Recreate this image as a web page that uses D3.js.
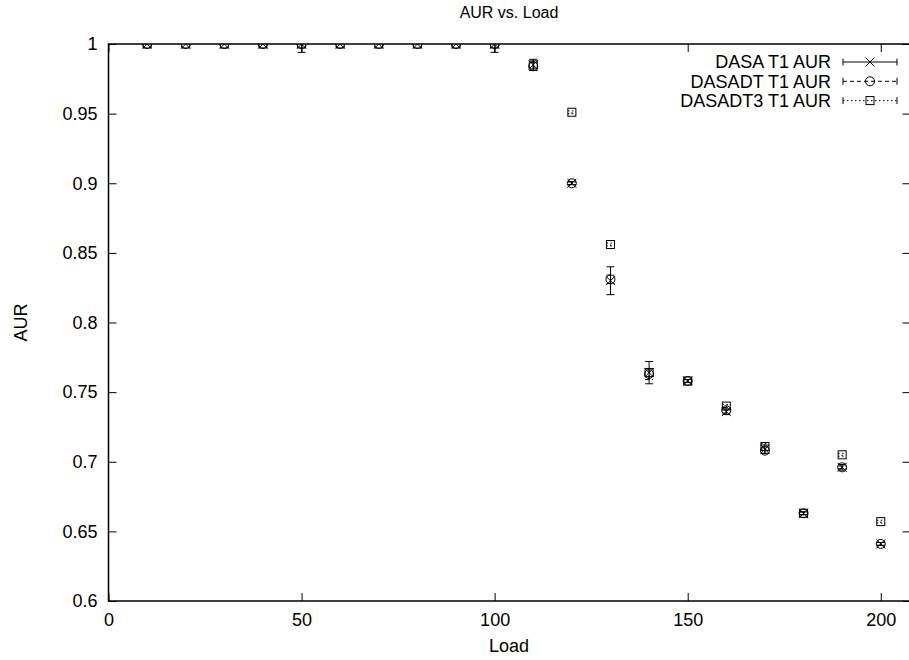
<!DOCTYPE html>
<html>
<head>
<meta charset="utf-8">
<script src="https://cdn.jsdelivr.net/npm/d3@7"></script>
<style>
  body { margin: 0; background: #fff; }
  svg text { font-family: "Liberation Sans", Arial, Helvetica, sans-serif; fill: #000; }
</style>
</head>
<body>
<svg id="chart" width="909" height="660"></svg>
<script>

// data
const loads = [10, 20, 30, 40, 50, 60, 70, 80, 90, 100, 110, 120, 130, 140, 150, 160, 170, 180, 190, 200];

const dasaAur     = [1, 1, 1, 1, 1, 1, 1, 1, 1, 1, 0.985, 0.900, 0.830, 0.764, 0.758, 0.736, 0.709, 0.663, 0.696, 0.641];
const dasaErr     = [0, 0, 0, 0, 0.006, 0, 0, 0, 0, 0.006, 0.004, 0.001, 0.010, 0.008, 0.001, 0.002, 0.003, 0.001, 0.002, 0.001];

const dasadtAur   = [1, 1, 1, 1, 1, 1, 1, 1, 1, 1, 0.984, 0.900, 0.831, 0.763, 0.758, 0.737, 0.708, 0.663, 0.696, 0.641];
const dasadtErr   = [0, 0, 0, 0, 0, 0, 0, 0, 0, 0, 0.003, 0.001, 0.003, 0.004, 0.001, 0.002, 0.002, 0.001, 0.001, 0.001];

const dasadt3Aur  = [1, 1, 1, 1, 1, 1, 1, 1, 1, 1, 0.985, 0.951, 0.856, 0.764, 0.758, 0.740, 0.711, 0.663, 0.705, 0.657];
const dasadt3Err  = [0, 0, 0, 0, 0, 0, 0, 0, 0, 0, 0.002, 0.001, 0.001, 0.003, 0.001, 0.001, 0.002, 0.001, 0.001, 0.001];

const xTicks = [0, 50, 100, 150, 200];
const yTicks = [0.6, 0.65, 0.7, 0.75, 0.8, 0.85, 0.9, 0.95, 1];

const seriesNames = ['DASA T1 AUR', 'DASADT T1 AUR', 'DASADT3 T1 AUR'];

const series = [
    { name: seriesNames[0], values: dasaAur, errs: dasaErr, marker: 'x', dash: null },
    { name: seriesNames[1], values: dasadtAur, errs: dasadtErr, marker: 'circle', dash: '4,3' },
    { name: seriesNames[2], values: dasadt3Aur, errs: dasadt3Err, marker: 'square', dash: '1.5,2.5' }
];

const svg = d3.select('#chart');

// plot box (right edge sits just past the window, like the original)
const plotL = 108.5, plotR = 910.5, plotT = 44, plotB = 601;
const FONT = 18;

const x = d3.scaleLinear().domain([0, 207.7]).range([plotL, plotR]);
const y = d3.scaleLinear().domain([0.6, 1]).range([plotB, plotT]);

svg.append('defs').append('clipPath').attr('id', 'plotclip')
    .append('rect')
    .attr('x', plotL).attr('y', plotT)
    .attr('width', plotR - plotL).attr('height', plotB - plotT);

// axes, ticks pointing inward (gnuplot style)
const TICK = 8;
const xAxisB = d3.axisBottom(x).tickValues(xTicks).tickSize(-TICK).tickPadding(12).tickFormat(d3.format('d'));
const xAxisT = d3.axisTop(x).tickValues(xTicks).tickSize(-TICK).tickFormat('');
const yAxisL = d3.axisLeft(y).tickValues(yTicks).tickSize(-TICK).tickPadding(11).tickFormat(d => d === 1 ? '1' : d3.format('.2~f')(d));
const yAxisR = d3.axisRight(y).tickValues(yTicks).tickSize(-TICK).tickFormat('');

function styleAxis(g) {
    g.select('.domain').remove();
    g.selectAll('line').attr('stroke', '#000').attr('stroke-width', 1);
    g.selectAll('text').style('font-size', FONT + 'px').attr('fill', '#000');
}

svg.append('g').attr('transform', `translate(0,${plotB})`).call(xAxisB).call(styleAxis);
svg.append('g').attr('transform', `translate(0,${plotT})`).call(xAxisT).call(styleAxis);
svg.append('g').attr('transform', `translate(${plotL},0)`).call(yAxisL).call(styleAxis);
svg.append('g').attr('transform', `translate(${plotR},0)`).call(yAxisR).call(styleAxis);

svg.selectAll('.tick text').attr('font-family', 'Liberation Sans, Arial, sans-serif');

// frame
svg.append('rect')
    .attr('x', plotL).attr('y', plotT)
    .attr('width', plotR - plotL).attr('height', plotB - plotT)
    .attr('fill', 'none').attr('stroke', '#000').attr('stroke-width', 1.5);

// titles
svg.append('text').attr('x', 509).attr('y', 18).attr('text-anchor', 'middle')
    .style('font-size', '16px').text('AUR vs. Load');
svg.append('text').attr('x', 509).attr('y', 652).attr('text-anchor', 'middle')
    .style('font-size', FONT + 'px').text('Load');
svg.append('text').attr('transform', 'translate(27,322.5) rotate(-90)').attr('text-anchor', 'middle')
    .style('font-size', FONT + 'px').text('AUR');

// marker drawing
function drawMarker(g, type, cx, cy) {
    if (type === 'x') {
        const s = 4.5;
        g.append('path')
            .attr('d', `M${cx - s},${cy - s}L${cx + s},${cy + s}M${cx - s},${cy + s}L${cx + s},${cy - s}`)
            .attr('stroke', '#000').attr('fill', 'none').attr('stroke-width', 1);
    } else if (type === 'circle') {
        g.append('circle').attr('cx', cx).attr('cy', cy).attr('r', 4.5)
            .attr('stroke', '#000').attr('fill', 'none').attr('stroke-width', 1);
    } else {
        g.append('rect').attr('x', cx - 4).attr('y', cy - 4).attr('width', 8).attr('height', 8)
            .attr('stroke', '#000').attr('fill', 'none').attr('stroke-width', 1);
    }
}

const CAP = 4;
const plotG = svg.append('g').attr('clip-path', 'url(#plotclip)');

series.forEach(s => {
    const g = plotG.append('g');
    loads.forEach((ld, i) => {
        const cx = x(ld), v = s.values[i], e = s.errs[i];
        if (e > 0) {
            const y0 = y(v - e), y1 = y(v + e);
            g.append('path')
                .attr('d', `M${cx},${y0}L${cx},${y1}M${cx - CAP},${y0}L${cx + CAP},${y0}M${cx - CAP},${y1}L${cx + CAP},${y1}`)
                .attr('stroke', '#000').attr('fill', 'none').attr('stroke-width', 1)
                .attr('stroke-dasharray', s.dash);
        }
        drawMarker(g, s.marker, cx, y(v));
    });
});

// legend
const legX0 = 843, legX1 = 897, legTextX = 831;
series.forEach((s, i) => {
    const ly = 62 + i * 19.3;
    const g = svg.append('g');
    g.append('text').attr('x', legTextX).attr('y', ly).attr('dy', '0.35em')
        .attr('text-anchor', 'end').style('font-size', FONT + 'px').text(s.name);
    g.append('path')
        .attr('d', `M${legX0},${ly}L${legX1},${ly}`)
        .attr('stroke', '#000').attr('stroke-width', 1).attr('stroke-dasharray', s.dash);
    g.append('path')
        .attr('d', `M${legX0},${ly - 3.5}L${legX0},${ly + 3.5}M${legX1},${ly - 3.5}L${legX1},${ly + 3.5}`)
        .attr('stroke', '#000').attr('stroke-width', 1);
    drawMarker(g, s.marker, (legX0 + legX1) / 2, ly);
});

</script>
</body>
</html>
